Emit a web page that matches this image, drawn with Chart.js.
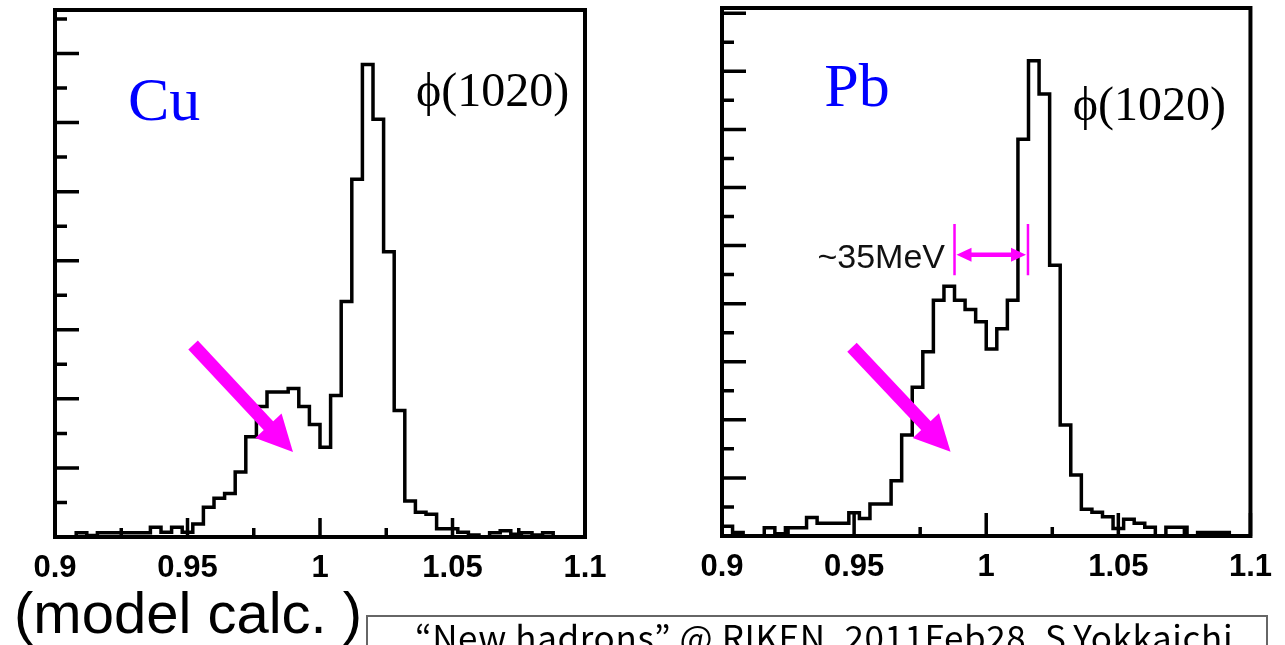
<!DOCTYPE html>
<html>
<head>
<meta charset="utf-8">
<script src="https://cdn.jsdelivr.net/npm/chart.js@4.4.1/dist/chart.umd.min.js"></script>
<style>
  body { margin:0; width:1285px; height:645px; overflow:hidden; background:#fff; position:relative; }
  canvas { position:absolute; top:0; }
  #cCu { left:0; }
  #cPb { left:640px; }
  .nota { position:absolute; font-family:"Liberation Sans", Arial, sans-serif; color:#000; white-space:nowrap; }
  #modelo { left:14px; top:584px; font-size:58px; line-height:58px; }
  #caja { left:366px; top:615px; width:902px; height:60px; border:2px solid #666; box-sizing:border-box; }
  #pie { left:415px; top:618px; font-size:35px; line-height:35px; letter-spacing:0.6px; font-family:"Noto Sans CJK JP", sans-serif; }
</style>
</head>
<body>
<canvas id="cCu" width="640" height="645"></canvas>
<canvas id="cPb" width="645" height="645"></canvas>
<div class="nota" id="modelo">(model calc. )</div>
<div class="nota" id="caja"></div>
<div class="nota" id="pie">“New hadrons” @ RIKEN, 2011Feb28, S.Yokkaichi</div>

<script>
// bordes de los bins (GeV)
const binEdges = [0.900,0.904,0.908,0.912,0.916,0.920,0.924,0.928,0.932,0.936,
                  0.940,0.944,0.948,0.952,0.956,0.960,0.964,0.968,0.972,0.976,
                  0.980,0.984,0.988,0.992,0.996,1.000,1.004,1.008,1.012,1.016,
                  1.020,1.024,1.028,1.032,1.036,1.040,1.044,1.048,1.052,1.056,
                  1.060,1.064,1.068,1.072,1.076,1.080,1.084,1.088,1.092,1.096,1.100];

// cuentas (1 tick mayor = 10)
const cuCounts = [0,0,0.6,0.2,0.6,0.6,0.6,0.6,0.6,1.4,
                  0.7,1.4,0.7,1.9,4.3,5.6,6.3,9.4,14.5,18.9,
                  21.0,21.0,21.5,18.9,16.3,13.0,20.5,34.1,51.8,68.4,
                  60.5,41.3,18.3,5.2,3.6,3.3,1.2,1.2,0.7,0.3,
                  0,0.6,0.9,0.4,0.6,0.3,0.6,0,0,0];

const pbCounts = [1.7,0.6,0,0,1.4,0.4,1.4,1.4,3.2,2.2,
                  2.2,2.2,4.0,3.0,5.5,5.5,9.5,17.4,25.6,31.7,
                  40.6,43.0,40.6,39.0,36.9,32.2,35.7,40.6,68.3,81.8,
                  76.1,46.6,19.1,10.5,4.6,4.1,3.3,1.3,2.9,2.2,
                  1.5,0,1.5,1.5,0,0.6,0.6,0.6,0,0];

const xTickValues = [0.9, 0.95, 1.0, 1.05, 1.1];
const xTickLabels = ["0.9", "0.95", "1", "1.05", "1.1"];
const xMinorTicks = [0.925, 0.975, 1.025, 1.075];

//* flecha gorda magenta
function flechaGorda(ctx, x0, y0, x1, y1){
    const ang = Math.atan2(y1 - y0, x1 - x0);
    const largo = Math.hypot(x1 - x0, y1 - y0);
    ctx.save();
    ctx.translate(x0, y0);
    ctx.rotate(ang);
    ctx.fillStyle = "#ff00ff";
    ctx.fillRect(0, -6.5, largo - 33, 13);
    ctx.beginPath();
    ctx.moveTo(largo, 0);
    ctx.lineTo(largo - 36, -18);
    ctx.lineTo(largo - 36, 18);
    ctx.closePath();
    ctx.fill();
    ctx.restore();
}

function puntaFlecha(ctx, px, py, dir){
    ctx.beginPath();
    ctx.moveTo(px, py);
    ctx.lineTo(px - dir * 15, py - 7);
    ctx.lineTo(px - dir * 15, py + 7);
    ctx.closePath();
    ctx.fill();
}

//! plugin: marco, ticks hacia adentro, textos y flechas
const marco = {
    id: "marco",
    afterDatasetsDraw(chart, args, o){
        const {ctx, chartArea: a} = chart;
        const x = chart.scales.x, y = chart.scales.y;
        ctx.save();
        ctx.strokeStyle = "#000";
        ctx.lineWidth = 3.5;
        ctx.beginPath();
        xTickValues.forEach(v => {
            const px = x.getPixelForValue(v);
            ctx.moveTo(px, a.bottom);
            ctx.lineTo(px, a.bottom - o.xMayor);
        });
        xMinorTicks.forEach(v => {
            const px = x.getPixelForValue(v);
            ctx.moveTo(px, a.bottom);
            ctx.lineTo(px, a.bottom - 9);
        });
        for (let v = 5; v < y.max; v += 5){
            const py = y.getPixelForValue(v);
            ctx.moveTo(a.left, py);
            ctx.lineTo(a.left + (v % 10 === 0 ? 24 : 12), py);
        }
        ctx.stroke();

        ctx.lineWidth = 4;
        ctx.lineJoin = "miter";
        ctx.strokeRect(a.left, a.top, a.right - a.left, a.bottom - a.top);

        o.textos.forEach(t => {
            ctx.font = t.font;
            ctx.fillStyle = t.color;
            ctx.textAlign = "left";
            ctx.textBaseline = "alphabetic";
            ctx.fillText(t.txt, x.getPixelForValue(t.x), y.getPixelForValue(t.y));
        });

        o.flechas.forEach(f => {
            flechaGorda(ctx, x.getPixelForValue(f[0]), y.getPixelForValue(f[1]),
                             x.getPixelForValue(f[2]), y.getPixelForValue(f[3]));
        });

        if (o.ancho){
            const w = o.ancho;
            const xa = x.getPixelForValue(w.x0), xb = x.getPixelForValue(w.x1);
            const ym = y.getPixelForValue(w.y);
            ctx.strokeStyle = "#ff00ff";
            ctx.fillStyle = "#ff00ff";
            ctx.lineWidth = 2.5;
            ctx.beginPath();
            ctx.moveTo(xa, y.getPixelForValue(w.yTop));
            ctx.lineTo(xa, y.getPixelForValue(w.yBot));
            ctx.moveTo(xb, y.getPixelForValue(w.yTop));
            ctx.lineTo(xb, y.getPixelForValue(w.yBot));
            ctx.stroke();
            ctx.lineWidth = 4.5;
            ctx.beginPath();
            ctx.moveTo(xa + 12, ym);
            ctx.lineTo(xb - 12, ym);
            ctx.stroke();
            puntaFlecha(ctx, xa + 2, ym, -1);
            puntaFlecha(ctx, xb - 2, ym, 1);
        }
        ctx.restore();
    }
};

function histograma(canvasId, counts, yMax, pad, extra){
    const puntos = binEdges.map((e, i) => ({x: e, y: counts[Math.min(i, counts.length - 1)]}));
    return new Chart(document.getElementById(canvasId), {
        type: "line",
        data: {
            datasets: [{
                data: puntos,
                stepped: true,
                borderColor: "#000",
                borderWidth: 3.5,
                pointRadius: 0,
                fill: false
            }]
        },
        options: {
            responsive: false,
            animation: false,
            devicePixelRatio: 1,
            layout: {padding: pad},
            plugins: {
                legend: {display: false},
                tooltip: {enabled: false},
                marco: extra
            },
            scales: {
                x: {
                    type: "linear",
                    min: 0.9,
                    max: 1.1,
                    afterBuildTicks: s => { s.ticks = xTickValues.map(v => ({value: v})); },
                    afterFit: s => { s.height = 50; },
                    grid: {display: false, drawTicks: false},
                    border: {display: false},
                    ticks: {
                        autoSkip: false,
                        maxRotation: 0,
                        padding: 13,
                        color: "#000",
                        font: {family: "Liberation Sans", size: 31, weight: "bold"},
                        callback: (v, i) => xTickLabels[i]
                    }
                },
                y: {display: false, min: 0, max: yMax}
            }
        },
        plugins: [marco]
    });
}

histograma("cCu", cuCounts, 76.3, {left: 55, right: 55, top: 10, bottom: 58}, {
    xMayor: 19,
    textos: [
        {txt: "Cu", x: 0.9275, y: 60.4, font: '62px "Liberation Serif"', color: "#0000ff"},
        {txt: "\u03d5(1020)", x: 1.0362, y: 62.4, font: '48px "Liberation Serif"', color: "#000"}
    ],
    flechas: [[0.9521, 27.8, 0.9898, 12.3]]
});

histograma("cPb", pbCounts, 90.9, {left: 82, right: 31, top: 8, bottom: 59}, {
    xMayor: 23,
    textos: [
        {txt: "Pb", x: 0.9387, y: 74.0, font: '62px "Liberation Serif"', color: "#0000ff"},
        {txt: "\u03d5(1020)", x: 1.0327, y: 71.6, font: '48px "Liberation Serif"', color: "#000"},
        {txt: "~35MeV", x: 0.9361, y: 46.1, font: '34px "Liberation Sans"', color: "#111"}
    ],
    flechas: [[0.9492, 32.5, 0.9865, 14.5]],
    ancho: {x0: 0.988, x1: 1.0158, y: 48.4, yTop: 53.7, yBot: 44.9}
});
</script>
</body>
</html>
